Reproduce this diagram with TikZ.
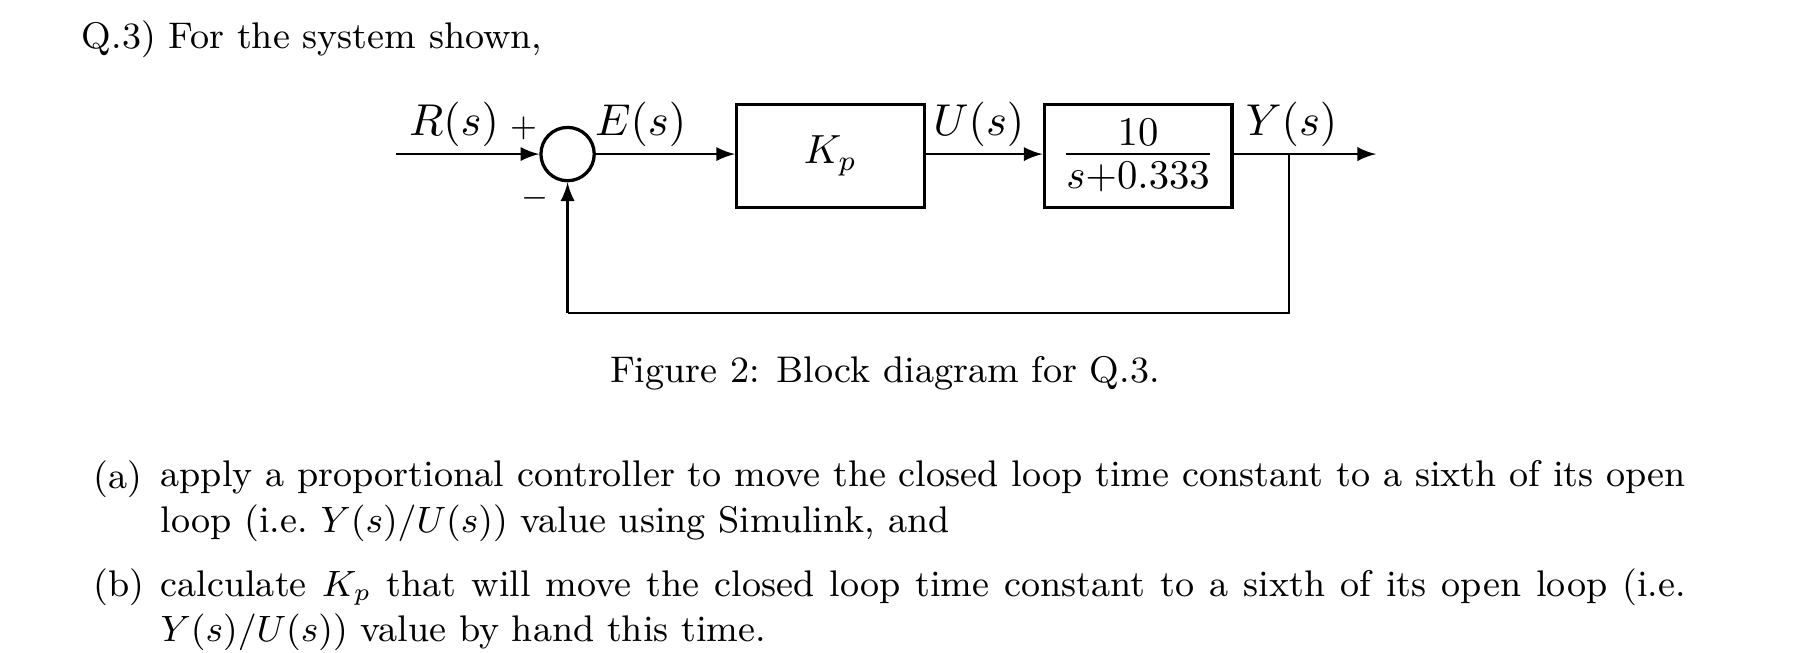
\documentclass[tikz,border=0pt]{standalone}
\usepackage{amsmath}
\begin{document}
\begin{tikzpicture}[x=0.01cm,y=-0.01cm,
  blk/.style={draw,thick,minimum width=1.62cm,minimum height=0.89cm,inner sep=0},
  sumc/.style={draw,thick,circle,minimum size=0.46cm,inner sep=0},
  lbl/.style={inner sep=0,anchor=base,font=\fontsize{11}{13}\selectfont},
  txt/.style={inner sep=0,font=\fontsize{9.1}{11.1}\selectfont},
  sig/.style={-latex,semithick},
  para/.style={txt,anchor=north west,text width=13.16cm,align=justify}]
\useasboundingbox (0,0) rectangle (1560,563);
\node[txt,anchor=base west] (q) at (70,42) {Q.3) For the system shown,};
\node[sumc] (s) at (490,133) {};
\coordinate (in) at (342,133);
\node[blk] (k) at (717,134.5) {$K_p$};
\node[blk] (g) at (982.5,134.5) {\Large$\frac{10}{s+0.333}$};
\coordinate (br) at (1113,133);
\coordinate (out) at (1188,133);
\coordinate (c1) at (1113,270);
\coordinate (c2) at (490,270);
\draw[sig] (in) -- (s.west);
\draw[sig] (s.east) -- (s.east -| k.west);
\draw[sig] (k.east |- s) -- (g.west |- s);
\draw[sig] (g.east |- s) -- (out);
\draw[semithick] (br) -- (c1) -- (c2);
\draw[sig] (c2) -- (s.south);
\node[lbl] (r) at (392,117) {$R(s)$};
\node[lbl] (p) at (452,118) {$\scriptstyle +$};
\node[lbl] (m) at (462,178) {$\scriptstyle -$};
\node[lbl] (e) at (553,117) {$E(s)$};
\node[lbl] (u) at (845,117) {$U(s)$};
\node[lbl] (y) at (1115,117) {$Y(s)$};
\node[txt,anchor=base] (cap) at (764,330) {Figure 2: Block diagram for Q.3.};
\node[txt,anchor=north west] (la) at (80,397) {(a)};
\node[para] (pa) at (138,397) {apply a proportional controller to move the closed loop time constant to a sixth of its open loop (i.e.\ $Y(s)/U(s)$) value using Simulink, and};
\node[txt,anchor=north west] (lb) at (80,490) {(b)};
\node[para] (pb) at (138,490) {calculate $K_p$ that will move the closed loop time constant to a sixth of its open loop (i.e.\ $Y(s)/U(s)$) value by hand this time.};
\end{tikzpicture}
\end{document}
